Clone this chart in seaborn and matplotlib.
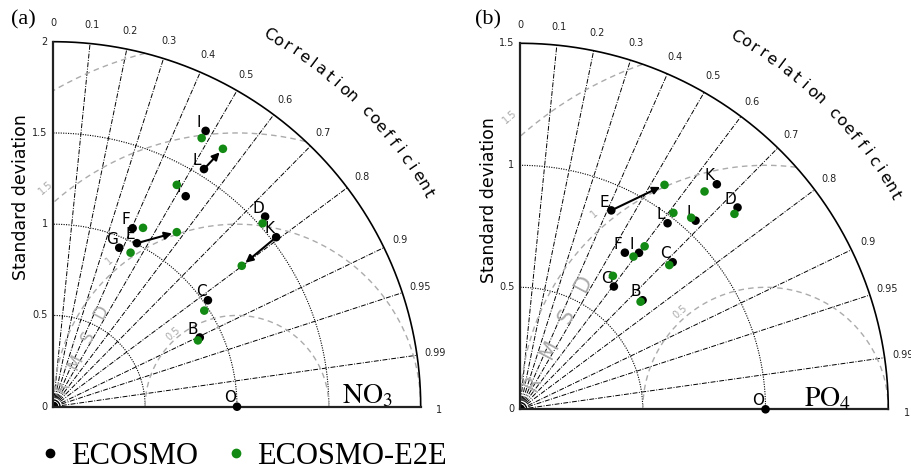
import numpy as np
import pandas as pd
import matplotlib
matplotlib.use("Agg")
import matplotlib.pyplot as plt
from matplotlib.lines import Line2D
import seaborn as sns

plt.rcParams['font.family'] = ['DejaVu Sans']
plt.rcParams['mathtext.fontset'] = 'stix'

# ---------------- data ----------------
ref_std = 1.0
corr_ticks = [0, 0.1, 0.2, 0.3, 0.4, 0.5, 0.6, 0.7, 0.8, 0.9, 0.95, 0.99, 1]
corr_tick_labels = ["0", "0.1", "0.2", "0.3", "0.4", "0.5", "0.6", "0.7", "0.8", "0.9", "0.95", "0.99", "1"]

# panel (a) NO3
names_a = ["I", "L", "I", "F", "E", "G", "D", "K", "C", "B"]
std_ecosmo_a = [1.724, 1.539, 1.360, 1.069, 1.005, 0.942, 1.554, 1.528, 1.024, 0.883]
cor_ecosmo_a = [0.481, 0.533, 0.530, 0.404, 0.453, 0.381, 0.742, 0.794, 0.822, 0.903]
std_e2e_a = [1.679, 1.688, 1.389, 1.095, 1.169, 0.943, 1.519, 1.284, 0.976, 0.867]
cor_e2e_a = [0.481, 0.547, 0.484, 0.446, 0.575, 0.446, 0.750, 0.799, 0.842, 0.908]
arrows_a = ["E", "L", "K"]
std_ticks_a = [0, 0.5, 1, 1.5, 2]
std_tick_labels_a = ["0", "0.5", "1", "1.5", "2"]

# panel (b) PO4
names_b = ["E", "K", "D", "L", "I", "F", "I", "C", "G", "B"]
std_ecosmo_b = [0.896, 1.222, 1.212, 0.971, 1.053, 0.771, 0.804, 0.866, 0.632, 0.670]
cor_ecosmo_b = [0.415, 0.656, 0.731, 0.619, 0.679, 0.554, 0.603, 0.718, 0.605, 0.745]
std_e2e_b = [1.092, 1.167, 1.185, 1.019, 1.050, 0.778, 0.839, 0.848, 0.665, 0.660]
cor_e2e_b = [0.539, 0.644, 0.737, 0.613, 0.664, 0.594, 0.605, 0.717, 0.569, 0.744]
arrows_b = ["E"]
std_ticks_b = [0, 0.5, 1, 1.5]
std_tick_labels_b = ["0", "0.5", "1", "1.5"]

rms_levels = [0.5, 1, 1.5, 2]
rms_label_levels = ["0.5", "1", "1.5"]

GREEN = "#138a13"
GRAY = "#ababab"


def to_xy(std, cor):
    std = np.asarray(std, float)
    th = np.arccos(np.asarray(cor, float))
    return std * np.cos(th), std * np.sin(th)


def panel(ax, rmax, std_ticks, std_labels, names, s1, c1, s2, c2, arrows,
          rms_fs, tag, tagx):
    ax.set_xlim(0, rmax)
    ax.set_ylim(0, rmax)
    ax.axis('off')
    t = np.linspace(0, np.pi / 2, 400)
    # std dotted arcs
    for r in std_ticks[1:-1]:
        ax.plot(r * np.cos(t), r * np.sin(t), ls=(0, (1, 1.2)), color='k', lw=0.8, zorder=1)
    # tiny arcs at origin
    for r in np.array([0.012, 0.024, 0.036]) * rmax / 2:
        ax.plot(r * np.cos(t), r * np.sin(t), color='k', lw=0.8, zorder=1, clip_on=False)
    # outer arc and axes
    ax.plot(rmax * np.cos(t), rmax * np.sin(t), color='k', lw=1.2, zorder=2, clip_on=False)
    ax.plot([0, 0], [0, rmax], color='#222222', lw=1.6, zorder=2, clip_on=False)
    ax.plot([0, rmax], [0, 0], color='#222222', lw=1.6, zorder=2, clip_on=False)
    # correlation lines
    for c in corr_ticks[1:-1]:
        th = np.arccos(c)
        ax.plot([0, rmax * np.cos(th)], [0, rmax * np.sin(th)], ls=(0, (5, 1.5, 1, 1.5)),
                color='k', lw=0.7, zorder=1)
    # correlation labels
    for c, lab in zip(corr_ticks, corr_tick_labels):
        th = np.arccos(c)
        rr = 1.05 * rmax
        ax.text(rr * np.cos(th), rr * np.sin(th) - (0.01 * rmax if c == 1 else 0), lab,
                fontsize=7, ha='center', va='center', color='#222222', clip_on=False)
    # std labels
    for v, lab in zip(std_ticks, std_labels):
        ax.text(-0.015 * rmax, v, lab, fontsize=7, ha='right', va='center', color='#222222')
    # RMSD arcs
    tt = np.linspace(0, np.pi, 1000)
    for r in rms_levels:
        x = ref_std + r * np.cos(tt)
        y = r * np.sin(tt)
        m = (x >= 0) & (x ** 2 + y ** 2 <= rmax ** 2 + 1e-9)
        if m.sum() < 2:
            continue
        x = np.where(m, x, np.nan)
        y = np.where(m, y, np.nan)
        ax.plot(x, y, ls=(0, (4, 3)), color=GRAY, lw=1.0, zorder=1)
    for lab in rms_label_levels:
        r = float(lab)
        ang = np.deg2rad(131)
        rr = r * 1.06
        ax.text(ref_std + rr * np.cos(ang), rr * np.sin(ang), lab, color=GRAY,
                fontsize=7, rotation=41, ha='center', va='center', clip_on=False)
    # RMSD letters
    ang = np.deg2rad(63.5)
    for i, ch in enumerate("RMSD"):
        rr = 0.12 + 0.153 * i
        ax.text(rr * np.cos(ang), rr * np.sin(ang), ch, color=GRAY, fontsize=rms_fs,
                rotation=62, ha='center', va='center')
    # curved "Correlation coefficient"
    txt = "Correlation coefficient"
    angs = np.linspace(60, 29.8, len(txt))
    rr = 1.175 * rmax
    for ch, a in zip(txt, angs):
        ar = np.deg2rad(a)
        ax.text(rr * np.cos(ar), rr * np.sin(ar), ch, fontsize=11.5, rotation=a - 90,
                ha='center', va='center', clip_on=False, rotation_mode='anchor')
    # data
    x1, y1 = to_xy(s1, c1)
    x2, y2 = to_xy(s2, c2)
    df = pd.DataFrame({
        'x': np.concatenate([x1, [ref_std], x2]),
        'y': np.concatenate([y1, [0.0], y2]),
        'model': ['ECOSMO'] * (len(x1) + 1) + ['ECOSMO-E2E'] * len(x2),
    })
    sns.scatterplot(data=df, x='x', y='y', hue='model',
                    palette={'ECOSMO': 'black', 'ECOSMO-E2E': GREEN},
                    s=38, edgecolor='none', linewidth=0, legend=False, ax=ax,
                    zorder=5, clip_on=False)
    ax.set_xlabel('')
    ax.set_ylabel('')
    ax.axis('off')
    for n, xa, ya, xb, yb in zip(names, x1, y1, x2, y2):
        ax.annotate(n, (xa, ya), xytext=(-5, 6), textcoords='offset points',
                    fontsize=11, ha='center', va='center', zorder=4)
    ax.annotate('O', (ref_std, 0), xytext=(-5, 6.5), textcoords='offset points',
                fontsize=11, ha='center', va='center', zorder=4)
    done = set()
    for n, xa, ya, xb, yb in zip(names, x1, y1, x2, y2):
        if n in arrows and n not in done:
            done.add(n)
            ax.annotate('', xy=(xb, yb), xytext=(xa, ya),
                        arrowprops=dict(arrowstyle='-|>', color='k', lw=1.5,
                                        shrinkA=0, shrinkB=3.5, mutation_scale=11),
                        zorder=6)
    ax.text(tagx * rmax, 0.03 * rmax, tag, fontsize=20, ha='center', va='center')


fig = plt.figure(figsize=(9.12, 4.71), dpi=100)
W, H = 912, 471
axa = fig.add_axes([53.3 / W, 1 - 406.7 / H, 367.4 / W, 365 / H])
axb = fig.add_axes([520 / W, 1 - 409.3 / H, 368.3 / W, 366 / H])

panel(axa, 2.0, std_ticks_a, std_tick_labels_a, names_a, std_ecosmo_a, cor_ecosmo_a,
      std_e2e_a, cor_e2e_a, arrows_a, 12, r'$\mathrm{NO}_3$', 0.855)
panel(axb, 1.5, std_ticks_b, std_tick_labels_b, names_b, std_ecosmo_b, cor_ecosmo_b,
      std_e2e_b, cor_e2e_b, arrows_b, 15, r'$\mathrm{PO}_4$', 0.835)

axa.text(-0.176, 1.149, 'Standard deviation', rotation=90, fontsize=12.5,
         ha='center', va='center', clip_on=False)
axb.text(-0.127, 0.858, 'Standard deviation', rotation=90, fontsize=12.5,
         ha='center', va='center', clip_on=False)

fig.text(23 / W, 1 - 20 / H, '(a)', fontsize=16, family='Liberation Serif', ha='center', va='center')
fig.text(488 / W, 1 - 20 / H, '(b)', fontsize=16, family='Liberation Serif', ha='center', va='center')

handles = [Line2D([], [], marker='o', ls='none', color='black', markersize=6),
           Line2D([], [], marker='o', ls='none', color=GREEN, markersize=6)]
fig.legend(handles, ['ECOSMO', 'ECOSMO-E2E'], loc='center left',
           bbox_to_anchor=(19 / W, 1 - 456 / H), ncol=2, frameon=False,
           prop={'family': 'Liberation Serif', 'size': 22},
           handletextpad=0.2, columnspacing=0.75, handlelength=1.0, borderpad=0)

fig.savefig('out.png', dpi=100)
